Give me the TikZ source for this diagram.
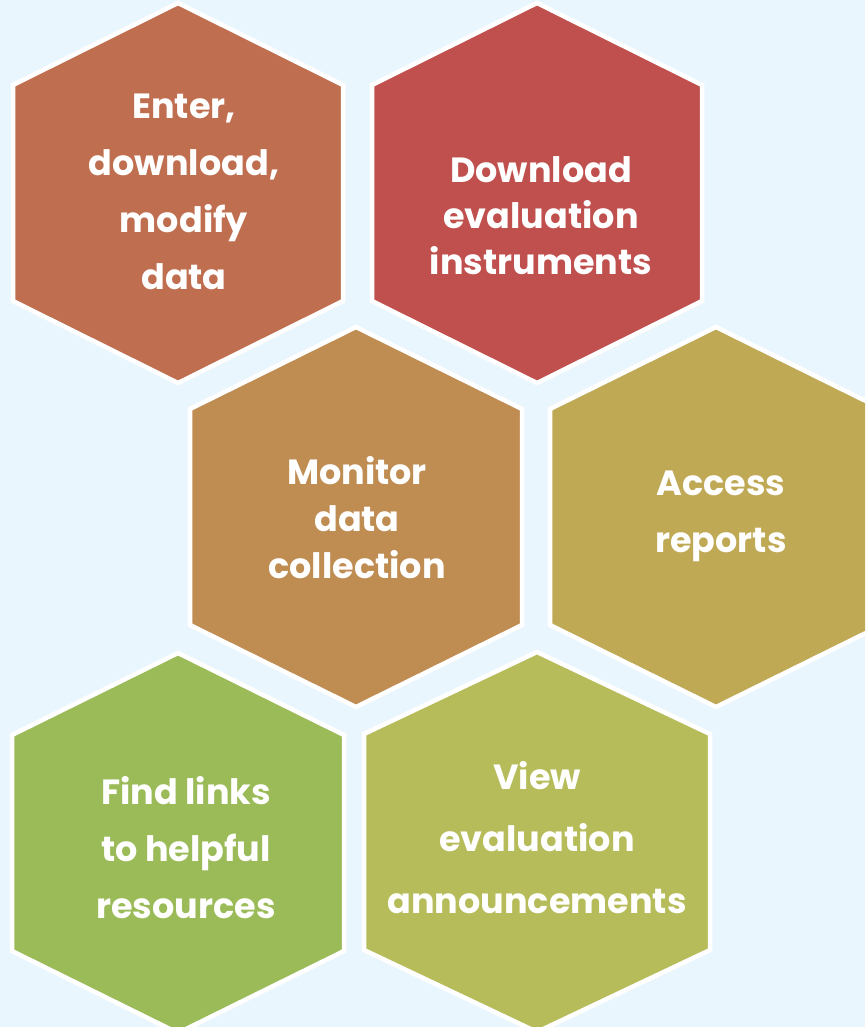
\documentclass[tikz,border=0pt]{standalone}
\usepackage{fontspec}
\setmainfont{Poppins}

\definecolor{bgblue}{HTML}{EAF6FE}
\definecolor{rust}{HTML}{BF6F50}
\definecolor{brick}{HTML}{C0504E}
\definecolor{ochre}{HTML}{BF8C52}
\definecolor{mustard}{HTML}{BFA955}
\definecolor{leaf}{HTML}{9BBB59}
\definecolor{olive}{HTML}{B6BC5A}

\tikzset{
	cell/.style={draw=white, line width=4.5pt, line join=miter},
	celltext/.style={text=white, align=center, font=\bfseries\fontsize{35}{57}\selectfont},
}

% hexagon: centre x, centre y, half width, colour
\newcommand{\hexcell}[4]{%
	\filldraw[cell, fill=#4] ({#1-#3},{#2-108}) -- (#1,{#2-190}) -- ({#1+#3},{#2-108}) -- ({#1+#3},{#2+108}) -- (#1,{#2+190}) -- ({#1-#3},{#2+108}) -- cycle;}

\begin{document}
\begin{tikzpicture}[x=1pt, y=-1pt]
				\useasboundingbox (0,0) rectangle (865,1027);
				\clip (0,0) rectangle (865,1027);
				\fill[bgblue] (0,0) rectangle (865,1027);
				\hexcell{178}{193}{165}{rust}
				\hexcell{537}{193}{165}{brick}
				\hexcell{356}{517}{166}{ochre}
				\hexcell{716}{517}{166}{mustard}
				\hexcell{178}{843}{166}{leaf}
				\hexcell{537}{842}{173}{olive}
				\node[celltext] (enter) at (184, 192) {Enter,\\download,\\modify\\data};
				\node[celltext, font=\bfseries\fontsize{35}{46}\selectfont] (instruments) at (541, 216) {Download\\evaluation\\instruments};
				\node[celltext, font=\bfseries\fontsize{35}{47}\selectfont] (monitor) at (357, 518) {Monitor\\data\\collection};
				\node[celltext] (reports) at (721, 516) {Access\\reports};
				\node[celltext] (links) at (186, 848) {Find links\\to helpful\\resources};
				\node[celltext, font=\bfseries\fontsize{35}{62}\selectfont] (announce) at (537, 838) {View\\evaluation\\announcements};
			\end{tikzpicture}
\end{document}
